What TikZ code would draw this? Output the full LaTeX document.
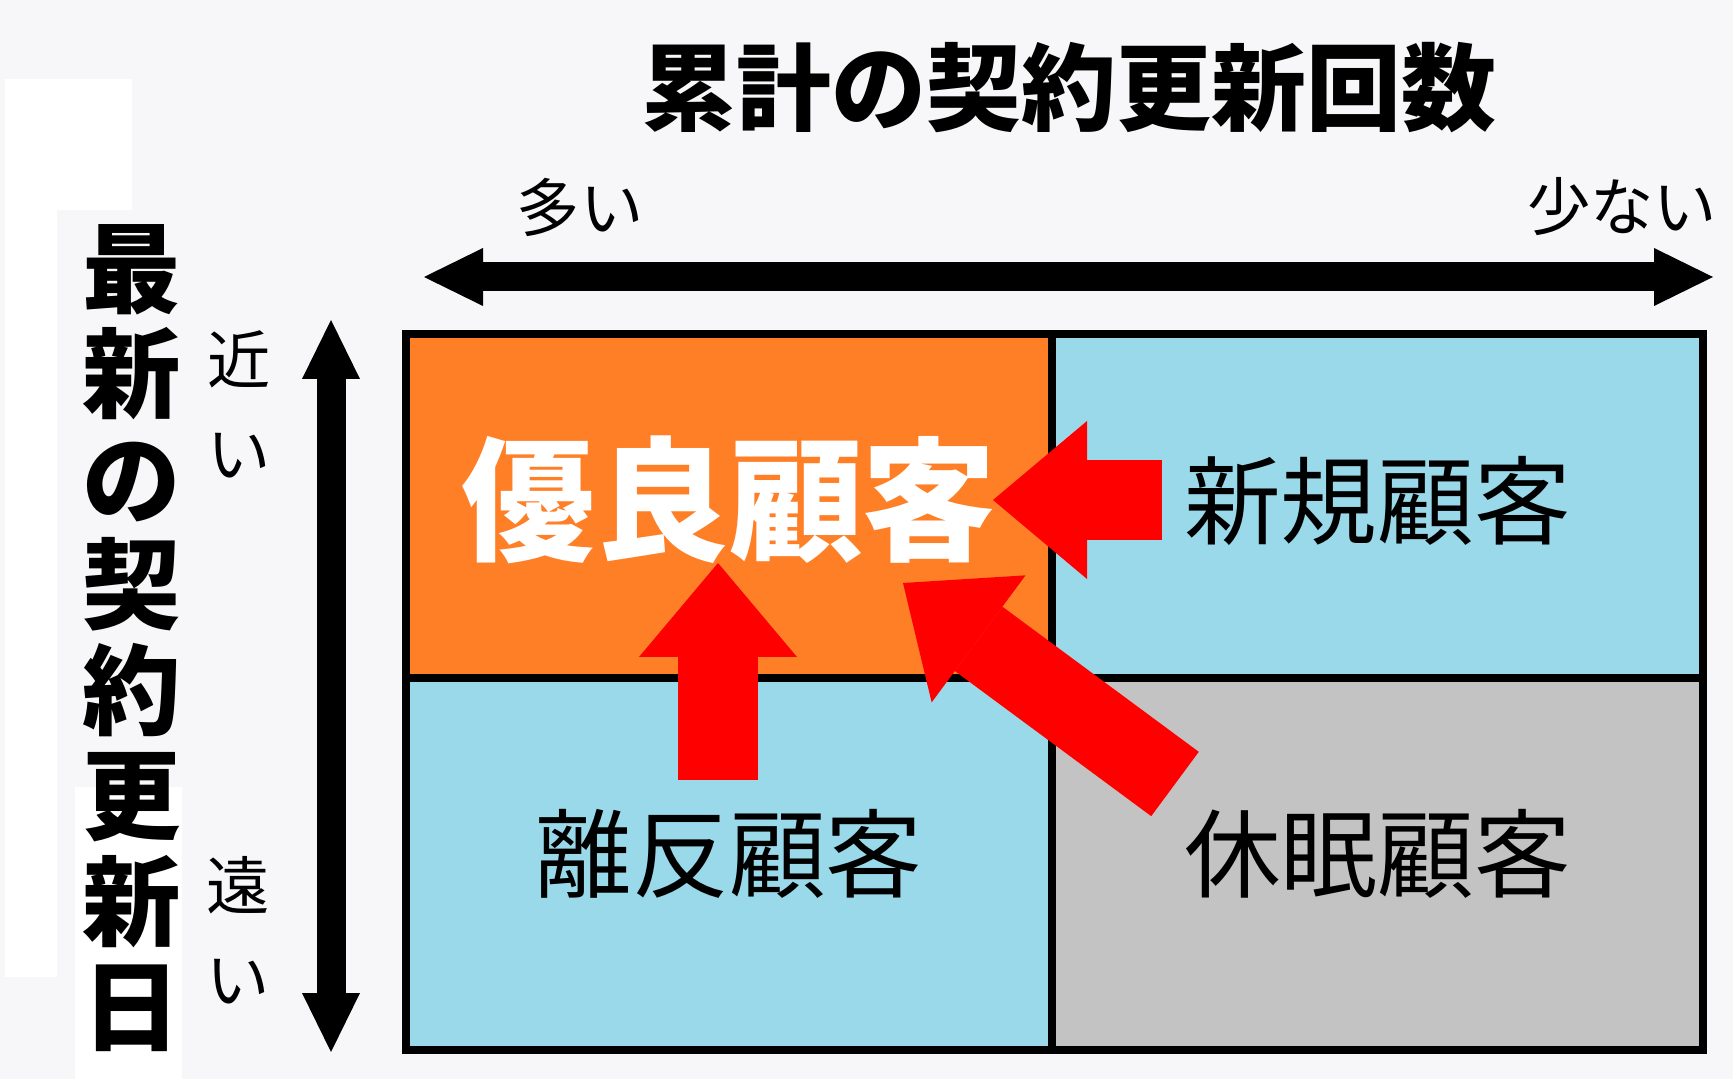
\documentclass[tikz,border=0pt]{standalone}
\usepackage{fontspec}
\setmainfont{Noto Sans CJK JP}
\usetikzlibrary{arrows.meta, positioning}

\definecolor{paper}{HTML}{F7F7F9}
\definecolor{goodorange}{HTML}{FF7F27}
\definecolor{quadblue}{HTML}{99D9EA}
\definecolor{quadgray}{HTML}{C3C3C3}
\definecolor{moveRed}{HTML}{FF0000}

\tikzstyle{quad} = [rectangle, draw=black, line width=0.8mm, inner sep=0pt, outer sep=0pt, text centered, text height=7.1mm, text depth=1.8mm, font=\fontsize{27.5}{30}\selectfont]
\tikzstyle{moveArrow} = [draw=moveRed, line width=8mm, -{Triangle[length=9.4mm, width=15.8mm, line width=0pt]}]
\tikzstyle{axisArrow} = [draw=black, line width=2.9mm, {Triangle[length=5.9mm, width=5.8mm, line width=0pt]}-{Triangle[length=5.9mm, width=5.8mm, line width=0pt]}]
\tikzstyle{tick} = [align=center, font=\fontsize{18}{26.7}\selectfont]

\begin{document}
\begin{tikzpicture}[x=0.1mm, y=-0.1mm]

\useasboundingbox[fill=paper] (0,0) rectangle (1733,1079);
\fill[white] (5,79) rectangle (132,210);
\fill[white] (5,210) rectangle (57,977);
\fill[white] (75,787) rectangle (182,1079);

% axis titles
\node (xtitle) at (1069,88) {\fontsize{27}{30}\selectfont\bfseries 累計の契約更新回数};
\node (ytitle) [align=center, font=\fontsize{28}{30}\selectfont\bfseries] at (132,638) {最\\新\\の\\契\\約\\更\\新\\日};

% axes
\coordinate (xL) at (424,277);
\coordinate (xR) at (1713,277);
\coordinate (yT) at (331,320);
\coordinate (yB) at (331,1052);
\draw [axisArrow] (xL) -- (xR);
\draw [axisArrow] (yT) -- (yB);

\node (many) [tick] at (580,207) {多い};
\node (few) [tick] at (1622,207) {少ない};
\node (near) [tick] at (239,404) {近\\い};
\node (far) [tick] at (238,930) {遠\\い};

% quadrants
\node (good) [quad, fill=goodorange, anchor=north west, minimum width=64.6mm, minimum height=34.4mm, text height=10.6mm, text depth=1.6mm, font=\fontsize{38}{40}\selectfont\bfseries, text=white] at (406,334) {優良顧客};
\node (new) [quad, fill=quadblue, minimum width=65.1mm, minimum height=34.4mm, text depth=0.8mm, right=0pt of good] {新規顧客};
\node (lost) [quad, fill=quadblue, minimum width=64.6mm, minimum height=37.2mm, below=0pt of good] {離反顧客};
\node (dormant) [quad, fill=quadgray, minimum width=65.1mm, minimum height=37.2mm, below=0pt of new] {休眠顧客};

% moves into good
\coordinate (newTail) at (1162,500);
\coordinate (newTip) at (993,500);
\coordinate (lostTail) at (718,780);
\coordinate (lostTip) at (718,563);
\coordinate (dormantTail) at (1175,784);
\coordinate (dormantTip) at (903,583);
\draw [moveArrow] (newTail) -- (newTip);
\draw [moveArrow] (lostTail) -- (lostTip);
\draw [moveArrow] (dormantTail) -- (dormantTip);

\end{tikzpicture}
\end{document}
